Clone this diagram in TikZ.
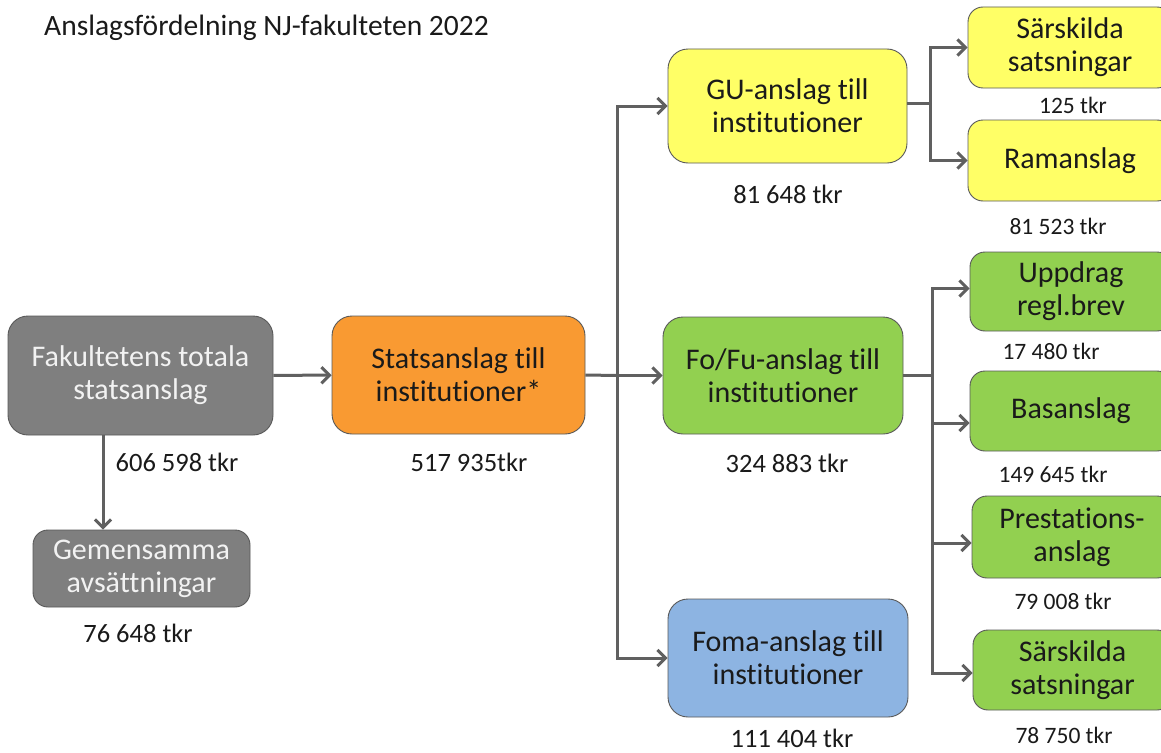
\documentclass[tikz,border=0pt]{standalone}
\usepackage{fontspec}
\setmainfont[Ligatures=NoCommon]{Carlito}
\usetikzlibrary{arrows.meta,calc}
\definecolor{cgray}{HTML}{7F7F7F}
\definecolor{corange}{HTML}{F99A32}
\definecolor{cyellow}{HTML}{FFFF66}
\definecolor{cgreen}{HTML}{92D050}
\definecolor{cblue}{HTML}{8DB4E2}
\definecolor{cline}{HTML}{606060}
\definecolor{ctext}{HTML}{1A1A1A}
\tikzset{
  box/.style={draw=black!65, line width=0.9pt, rounded corners=20pt, align=center, inner sep=0pt, text=ctext,
    font=\fontsize{30}{33}\selectfont},
  sbox/.style={box, rounded corners=15pt},
  lab/.style={inner sep=0pt, text=ctext, font=\fontsize{26.5}{30}\selectfont},
  slab/.style={inner sep=0pt, text=ctext, font=\fontsize{23.5}{27}\selectfont},
  conn/.style={draw=cline, line width=3pt},
  arr/.style={conn, -{Straight Barb[length=8pt,width=16pt,line width=3pt]}},
}
\begin{document}
\begin{tikzpicture}[x=1pt,y=-1pt]
\clip (0,0) rectangle (1161,752);
\fill[white] (0,0) rectangle (1161,752);
\node[anchor=west, inner sep=0pt, text=ctext, font=\fontsize{29.5}{32}\selectfont] (title) at (44,28) {Anslagsfördelning NJ-fakulteten 2022};
% main boxes
\node[box, fill=cgray, text=white!95!black, minimum width=265pt, minimum height=119pt] (fak) at (140.5,375.5) {Fakultetens totala\\statsanslag};
\node[sbox, fill=cgray, text=white!95!black, minimum width=217pt, minimum height=77pt] (gem) at (141.5,568.5) {Gemensamma\\avsättningar};
\node[box, fill=corange, minimum width=253pt, minimum height=118pt] (stat) at (458.5,375) {Statsanslag till\\institutioner*};
\node[box, fill=cyellow, minimum width=239pt, minimum height=114pt] (gu) at (787.5,106) {GU-anslag till\\institutioner};
\node[box, fill=cgreen, minimum width=240pt, minimum height=117pt] (fofu) at (783,375.5) {Fo/Fu-anslag till\\institutioner};
\node[box, fill=cblue, minimum width=240pt, minimum height=118pt] (foma) at (788,658) {Foma-anslag till\\institutioner};
% right boxes
\node[sbox, fill=cyellow, minimum width=204pt, minimum height=81pt] (sary) at (1070,47.5) {Särskilda\\satsningar};
\node[sbox, fill=cyellow, minimum width=204pt, minimum height=81pt] (ram) at (1070,160.5) {Ramanslag};
\node[sbox, fill=cgreen, minimum width=202pt, minimum height=79pt] (upp) at (1071,291.5) {Uppdrag\\regl.brev};
\node[sbox, fill=cgreen, minimum width=202pt, minimum height=80pt] (bas) at (1071,411) {Basanslag};
\node[sbox, fill=cgreen, minimum width=200pt, minimum height=82pt] (pre) at (1072,537) {Prestations-\\anslag};
\node[sbox, fill=cgreen, minimum width=199pt, minimum height=80pt] (sarg) at (1072.5,670) {Särskilda\\satsningar};
% labels
\node[lab] (lfak) at (177,462) {606 598 tkr};
\node[lab] (lgem) at (138,633) {76 648 tkr};
\node[lab] (lstat) at (469,462) {517 935tkr};
\node[lab] (lgu) at (788,194) {81 648 tkr};
\node[lab] (lfofu) at (787,463) {324 883 tkr};
\node[lab] (lfoma) at (792,738) {111 404 tkr};
\node[slab] (lsary) at (1073,105) {125 tkr};
\node[slab] (lram) at (1058,226) {81 523 tkr};
\node[slab] (lupp) at (1051,351) {17 480 tkr};
\node[slab] (lbas) at (1053,474) {149 645 tkr};
\node[slab] (lpre) at (1063,601) {79 008 tkr};
\node[slab] (lsarg) at (1064,735) {78 750 tkr};
% connectors
\coordinate (j1) at (617,375.5);
\coordinate (j2) at (932,375.5);
\coordinate (j3) at (930,103);
\draw[arr] (fak) -- (stat);
\draw[arr] ([xshift=-37.5pt]fak.south) -- ([xshift=-38.5pt]gem.north);
\draw[conn] (stat.east) -- (j1);
\draw[arr] (j1) -- (fofu.west);
\draw[arr] (j1) |- (gu.west);
\draw[arr] (j1) |- (foma.west);
\draw[conn] ([yshift=3pt]gu.east) -- (j3);
\draw[arr] (j3) |- (sary.west);
\draw[arr] (j3) |- (ram.west);
\draw[conn] (fofu.east) -- (j2);
\draw[arr] (j2) |- ([yshift=3pt]upp.west);
\draw[arr] (j2) |- ([yshift=-12pt]bas.west);
\draw[arr] (j2) |- ([yshift=-6pt]pre.west);
\draw[arr] (j2) |- ([yshift=-3pt]sarg.west);
\end{tikzpicture}
\end{document}
